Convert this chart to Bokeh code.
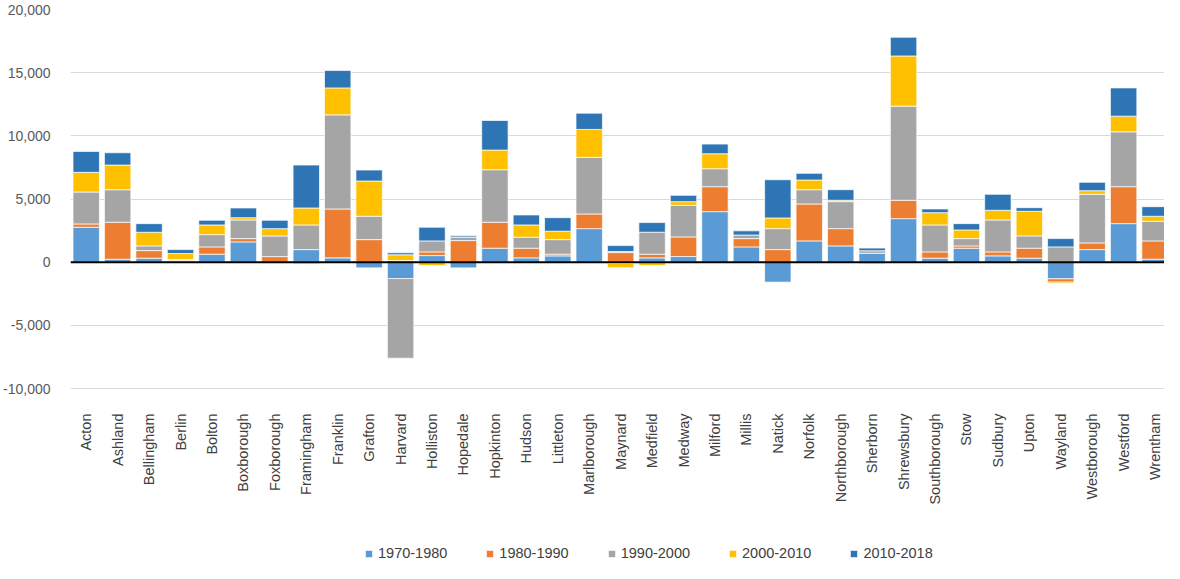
import math
import numpy as np
from bokeh.plotting import figure
from bokeh.core.properties import value
from bokeh.models import (Range1d, FixedTicker, NumeralTickFormatter, Span,
                          Legend, LegendItem, ColumnDataSource)
from bokeh.embed import file_html
from bokeh.resources import INLINE

towns = ["Acton", "Ashland", "Bellingham", "Berlin", "Bolton", "Boxborough",
         "Foxborough", "Framingham", "Franklin", "Grafton", "Harvard",
         "Holliston", "Hopedale", "Hopkinton", "Hudson", "Littleton",
         "Marlborough", "Maynard", "Medfield", "Medway", "Milford", "Millis",
         "Natick", "Norfolk", "Northborough", "Sherborn", "Shrewsbury",
         "Southborough", "Stow", "Sudbury", "Upton", "Wayland", "Westborough",
         "Westford", "Wrentham"]

periods = ["1970-1980", "1980-1990", "1990-2000", "2000-2010", "2010-2018"]

d1970 = [2765, 230, 316, 60, 632, 1604, -70, 995, 340, -450, -1300, 521, -450,
         1106, 340, 498, 2655, -100, 340, 445, 4000, 1209, -1580, 1683, 1288,
         700, 3445, 316, 1106, 498, 316, -1319, 995, 3050, 237]
d1980 = [260, 2930, 600, 70, 577, 261, 440, -120, 3871, 1785, 130, 293, 1708,
         2054, 766, 134, 1161, 760, 292, 1555, 1975, 656, 995, 2923, 1367,
         -60, 1453, 498, 182, 316, 790, -261, 530, 2925, 1446]
d1990 = [2528, 2575, 370, 80, 971, 1477, 1636, 1952, 7449, 1849, -6300, 869,
         267, 4158, 869, 1153, 4479, 80, 1738, 2500, 1421, 284, 1660, 1129,
         2135, 200, 7450, 2133, 577, 2528, 972, 1209, 3847, 4343, 1557]
d2000 = [1556, 1952, 1082, 470, 767, 181, 577, 1343, 2133, 2789, 450, -265, 4,
         1554, 972, 664, 2212, -330, -265, 290, 1185, -10, 845, 767, 108, -80,
         3974, 971, 687, 766, 1951, -105, 284, 1240, 394]
d2010 = [1659, 973, 680, 315, 371, 767, 663, 3397, 1375, 869, 160, 1082, 103,
         2344, 790, 1074, 1288, 470, 763, 500, 764, 330, 3025, 529, 837, 213,
         1478, 293, 498, 1264, 284, 656, 664, 2235, 758]

colors = ["#5B9BD5", "#ED7D31", "#A5A5A5", "#FFC000", "#2E75B6"]
series = [d1970, d1980, d1990, d2000, d2010]

y_ticks = [-10000, -5000, 0, 5000, 10000, 15000, 20000]

# layout geometry (pixels)
FIG_H = 562
TOP = 9
GRID_PX = 379            # pixels between the 20,000 and -10,000 gridlines
frame_h = FIG_H - TOP
y_hi = y_ticks[-1]
y_lo = y_hi - frame_h * (y_ticks[-1] - y_ticks[0]) / GRID_PX

x = np.arange(len(towns))
p = figure(width=1164, height=FIG_H, output_backend="svg",
           toolbar_location=None,
           x_range=Range1d(-0.5, 34.3), y_range=Range1d(y_lo, y_hi),
           min_border_left=65, min_border_right=0, min_border_top=TOP,
           min_border_bottom=0)
p.outline_line_color = None
p.background_fill_color = "white"
p.border_fill_color = "white"

pos = np.zeros(len(towns))
neg = np.zeros(len(towns))
items = []
for name, vals, col in zip(periods, series, colors):
    v = np.array(vals, dtype=float)
    bottom = np.where(v >= 0, pos, neg)
    top = bottom + v
    pos = pos + np.maximum(v, 0)
    neg = neg + np.minimum(v, 0)
    src = ColumnDataSource(dict(x=x, top=top, bottom=bottom))
    r = p.vbar(x="x", top="top", bottom="bottom", width=0.84, source=src,
               fill_color=col, line_color="#ffffff", line_alpha=0.7,
               line_width=1)
    items.append(LegendItem(label=name, renderers=[r]))

p.add_layout(Span(location=0, dimension="width", line_color="black",
                  line_width=2))

# category labels, rotated, below the lowest gridline
lab_src = ColumnDataSource(dict(x=x, y=[y_ticks[0]] * len(towns), t=towns))
p.text(x="x", y="y", text="t", source=lab_src, angle=math.pi / 2,
       text_align="right", text_baseline="middle", y_offset=25,
       text_font=value("Liberation Sans"), text_font_size="14.5px",
       text_color="#404040")

# axes
p.yaxis.ticker = FixedTicker(ticks=y_ticks)
p.yaxis.formatter = NumeralTickFormatter(format="0,0")
p.yaxis.axis_line_color = None
p.yaxis.major_tick_line_color = None
p.yaxis.minor_tick_line_color = None
p.yaxis.major_label_standoff = 14
p.yaxis.major_label_text_font = "Liberation Sans"
p.yaxis.major_label_text_font_size = "14px"
p.yaxis.major_label_text_color = "#595959"

p.xaxis.visible = False
p.xgrid.grid_line_color = None
p.ygrid.grid_line_color = "#d9d9d9"
p.ygrid.grid_line_width = 1

legend = Legend(items=items, orientation="horizontal", location=(294, 1),
                glyph_width=9, glyph_height=9, label_standoff=5, spacing=38,
                padding=0, margin=0, border_line_color=None,
                background_fill_alpha=0, label_text_font="Liberation Sans",
                label_text_font_size="14.5px", label_text_color="#404040")
p.add_layout(legend, "center")

open("out.html", "w").write(file_html(p, INLINE))
